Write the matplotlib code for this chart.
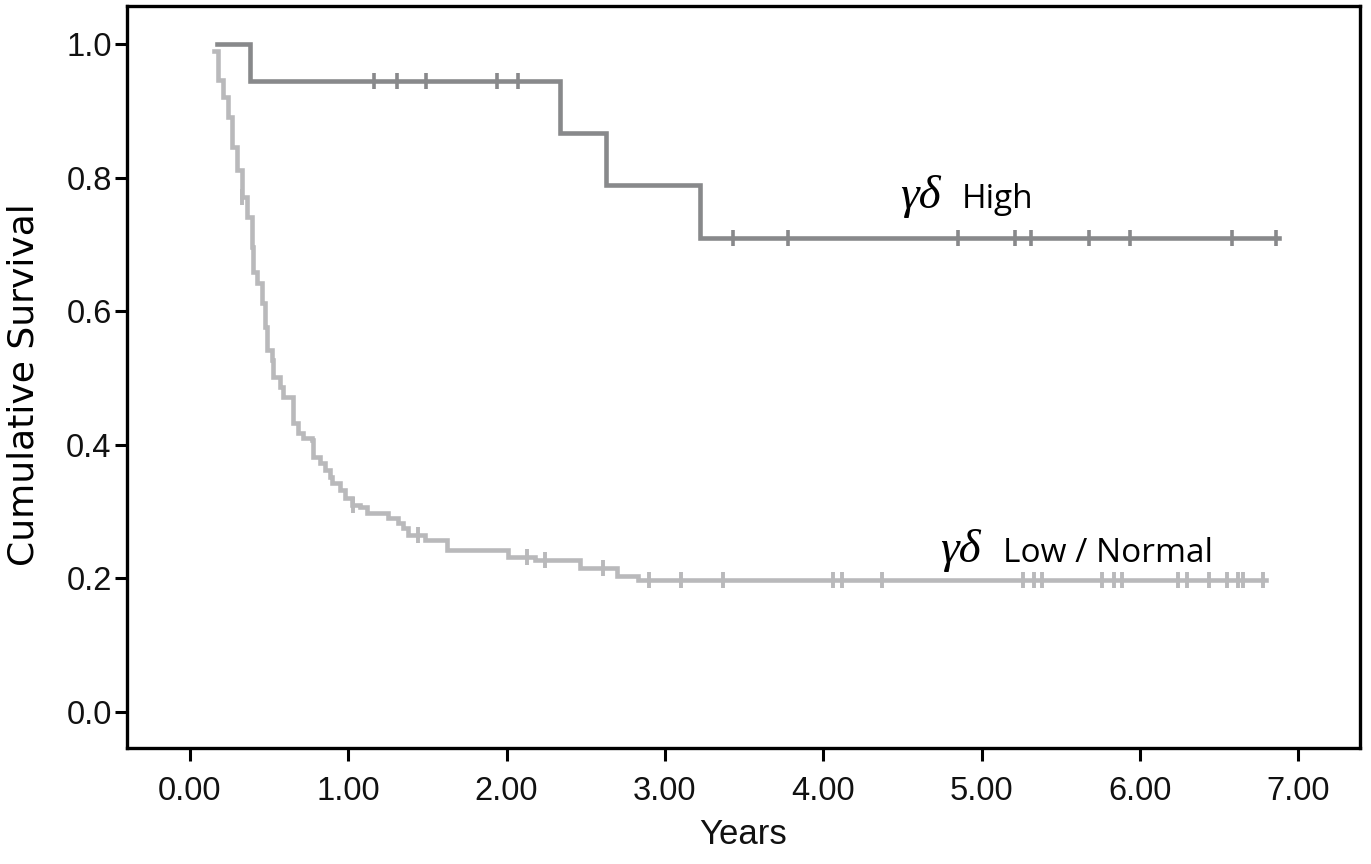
import numpy as np
import matplotlib
matplotlib.use("Agg")
import matplotlib.pyplot as plt

# ---------------- data ----------------
high_times = [0.17, 0.38, 2.34, 2.63, 3.22, 6.88]
high_surv = [1.0, 0.945, 0.867, 0.789, 0.710, 0.710]
high_censor = [1.16, 1.31, 1.49, 1.94, 2.07, 3.43, 3.78, 4.85, 5.21, 5.31,
               5.68, 5.94, 6.58, 6.86]

low_times = [0.15, 0.177, 0.208, 0.240, 0.265, 0.297, 0.328, 0.360, 0.392,
             0.398, 0.423, 0.455, 0.474, 0.486, 0.518, 0.524, 0.569, 0.587,
             0.648, 0.682, 0.714, 0.771, 0.777, 0.821, 0.853, 0.884, 0.897,
             0.948, 0.979, 1.023, 1.074, 1.118, 1.250, 1.314, 1.346, 1.377,
             1.485, 1.624, 2.009, 2.18, 2.464, 2.697, 2.83, 6.80]
low_surv = [0.99, 0.946, 0.921, 0.891, 0.846, 0.811, 0.771, 0.741, 0.696,
            0.659, 0.642, 0.612, 0.576, 0.542, 0.527, 0.501, 0.487, 0.472,
            0.433, 0.418, 0.410, 0.407, 0.382, 0.373, 0.362, 0.352, 0.343,
            0.332, 0.320, 0.310, 0.307, 0.298, 0.290, 0.283, 0.275, 0.265,
            0.257, 0.243, 0.232, 0.228, 0.216, 0.204, 0.198, 0.198]
low_censor = [0.33, 1.03, 1.44, 2.13, 2.24, 2.61, 2.90, 3.10, 3.37, 4.06,
              4.12, 4.37, 5.26, 5.33, 5.38, 5.76, 5.84, 5.89, 6.24, 6.30,
              6.44, 6.55, 6.62, 6.65, 6.78]

x_ticks = [0, 1, 2, 3, 4, 5, 6, 7]
x_ticklabels = ["0.00", "1.00", "2.00", "3.00", "4.00", "5.00", "6.00", "7.00"]
y_ticks = [0.0, 0.2, 0.4, 0.6, 0.8, 1.0]
y_ticklabels = ["0.0", "0.2", "0.4", "0.6", "0.8", "1.0"]

HIGH_COLOR = "#88898b"
LOW_COLOR = "#b9b9bb"


def step_value(times, surv, t):
    idx = np.searchsorted(np.asarray(times), t, side="right") - 1
    return np.asarray(surv)[idx]


fig = plt.figure(figsize=(13.71, 8.64), dpi=100)
ax = fig.add_axes([0.0926, 0.1343, 0.8994, 0.8587])

ax.step(high_times, high_surv, where="post", color=HIGH_COLOR, lw=3.3,
        solid_joinstyle="miter", zorder=3)
ax.step(low_times, low_surv, where="post", color=LOW_COLOR, lw=3.3,
        solid_joinstyle="miter", zorder=2)

ax.plot(high_censor, step_value(high_times, high_surv, high_censor),
        linestyle="none", marker="|", ms=11, mew=2.6, color=HIGH_COLOR, zorder=3)
ax.plot(low_censor, step_value(low_times, low_surv, low_censor),
        linestyle="none", marker="|", ms=11, mew=2.8, color=LOW_COLOR, zorder=2)

ax.set_xlim(-0.398, 7.391)
ax.set_ylim(-0.054, 1.057)
ax.set_xticks(x_ticks)
ax.set_xticklabels(x_ticklabels)
ax.set_yticks(y_ticks)
ax.set_yticklabels(y_ticklabels)

for lab in ax.get_xticklabels() + ax.get_yticklabels():
    lab.set_fontfamily("Liberation Sans")
    lab.set_fontsize(23.5)
    lab.set_color("#111111")

ax.tick_params(axis="both", width=2.2, length=9, color="black")
ax.tick_params(axis="x", pad=11)
ax.tick_params(axis="y", pad=2)
for sp in ax.spines.values():
    sp.set_linewidth(2.4)
    sp.set_color("black")

ax.set_xlabel("Years", fontfamily="Liberation Sans", fontsize=25,
              color="#111111", labelpad=8)
fig.text(0.0175, 0.555, "Cumulative Survival", rotation=90,
         fontfamily="Liberation Sans Narrow", fontsize=26, color="black",
         ha="center", va="center")

# group labels
ax.text(4.485, 0.754, "\u03b3\u03b4", fontfamily="Liberation Serif",
        fontstyle="italic", fontsize=34, color="black")
ax.text(4.877, 0.754, "High", fontfamily="Open Sans", fontsize=24,
        color="black")
ax.text(4.738, 0.2246, "\u03b3\u03b4", fontfamily="Liberation Serif",
        fontstyle="italic", fontsize=34, color="black")
ax.text(5.136, 0.2246, "Low / Normal", fontfamily="Open Sans", fontsize=24,
        color="black")

fig.savefig("out.png", dpi=100)
